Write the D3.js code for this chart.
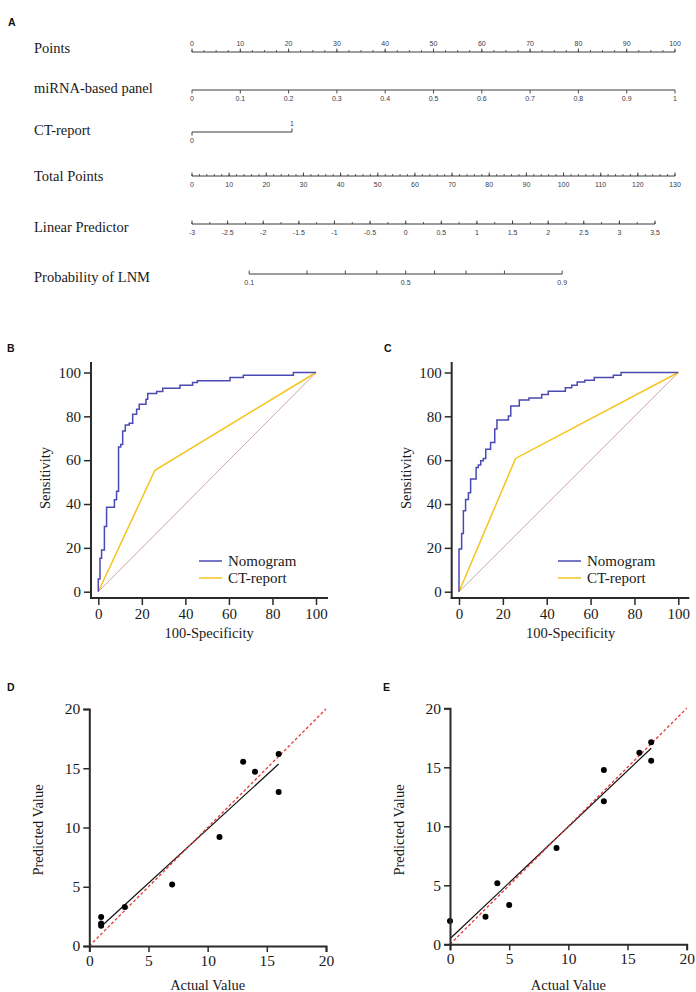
<!DOCTYPE html>
<html><head><meta charset="utf-8">
<script src="https://cdn.jsdelivr.net/npm/d3@7"></script>
<style>html,body{margin:0;padding:0;background:#fff;}svg{display:block;}</style>
</head><body>
<svg id="fig" width="696" height="992"></svg>
<script>
// ---------- DATA ----------
const nomoRows = ["Points", "miRNA-based panel", "CT-report", "Total Points", "Linear Predictor", "Probability of LNM"];
const pointsTicks = [0,10,20,30,40,50,60,70,80,90,100];
const mirnaTicks = [0,0.1,0.2,0.3,0.4,0.5,0.6,0.7,0.8,0.9,1];
const ctLevels = [0, 1];
const ctPointsAt1 = 20.7;
const totalTicks = [0,10,20,30,40,50,60,70,80,90,100,110,120,130];
const lpTicks = [-3,-2.5,-2,-1.5,-1,-0.5,0,0.5,1,1.5,2,2.5,3,3.5];
const probTicks = [0.1,0.2,0.3,0.4,0.5,0.6,0.7,0.8,0.9];
const probLabels = [0.1,0.5,0.9];

const rocTicks = [0,20,40,60,80,100];
const fprB = [0,0,0.77,1.5,2.8,3.8,7.4,8.4,9.3,10.3,11.2,12.4,14.2,15.8,17.6,18.8,21.9,22.7,26.8,29.6,37.5,43.3,45.5,60.5,66.6,89.6,100];
const sensB = [0,5.8,15.3,19,29.8,38.5,42,45.8,66,67.2,73.3,76,76.8,80.9,83.2,85.5,87.8,90.4,91.3,92.8,94.2,95.4,96.2,97.7,98.8,100,100];
const ctFprB = [0,26,100];
const ctSensB = [0,55.4,100];
const fprC = [0,0,1.2,2.0,3.0,4.3,5.3,7.8,8.8,9.9,11.1,12.2,14.4,16.3,17.3,22.5,23.6,27.5,31.9,37.7,40.7,48.5,51.4,53.9,57.4,61.7,70.4,73.9,100];
const sensC = [0,19.5,26.6,36.9,42.1,45.1,51.4,56.7,57.8,59.7,60.8,65,68.1,74.2,78.3,80.1,84.7,87.4,88.4,90,91.5,93,94.2,95.7,96.5,97.7,98.8,100,100];
const ctFprC = [0,25.8,100];
const ctSensC = [0,60.8,100];
const legendNames = ["Nomogram", "CT-report"];

const calTicks = [0,5,10,15,20];
const actualD = [1,1,1,3,7,11,13,14,16,16];
const predD = [2.45,1.9,1.7,3.3,5.2,9.2,15.55,14.7,16.2,13.0];
const actualE = [0,3,4,5,9,13,13,16,17,17];
const predE = [1.98,2.34,5.17,3.33,8.16,14.77,12.12,16.24,17.12,15.56];

// ---------- STYLE ----------
const serif = "'Liberation Serif','Times New Roman',serif";
const sans = "'Liberation Sans',Arial,sans-serif";
const blue = "#4a4ab2", yellow = "#f6c31c", diag = "#c99a9a", axisCol = "#2b2b2b";

const svg = d3.select("#fig");

// ---------- PANEL LABELS ----------
[["A",8,26],["B",7,352],["C",384,352],["D",7,691],["E",383,691]].forEach(([t,x,y])=>{
  svg.append("text").attr("x",x).attr("y",y).text(t)
    .attr("font-family",sans).attr("font-weight","bold").attr("font-size",10.5).attr("fill","#111");
});

// ---------- NOMOGRAM ----------
const rowBase = [53, 93, 135, 181, 232, 282];
nomoRows.forEach((r,i)=>{
  svg.append("text").attr("x",34).attr("y",rowBase[i]).text(r)
    .attr("font-family",serif).attr("font-size",14.5).attr("fill","#1a1a1a");
});
const nomoLine = "#3a3a3a", nomoText = "#3b3b4e";
const pts = d3.scaleLinear().domain([0,100]).range([192,675]);
const tot = d3.scaleLinear().domain([0,130]).range([192,675]);
const lp = d3.scaleLinear().domain([-3,3.5]).range([192,655]);
const logit = p => Math.log(p/(1-p));

function nomoAxis(y, scale, ticks, minor, dir, labelPos, labelTicks, fmt){
  const g = svg.append("g");
  const d = scale.domain();
  g.append("line").attr("x1",scale(d[0])).attr("x2",scale(d[d.length-1])).attr("y1",y).attr("y2",y)
    .attr("stroke",nomoLine).attr("stroke-width",1);
  minor.forEach(v=>{
    g.append("line").attr("x1",scale(v)).attr("x2",scale(v)).attr("y1",y).attr("y2",y+dir*2)
      .attr("stroke",nomoLine).attr("stroke-width",0.8);
  });
  ticks.forEach(v=>{
    g.append("line").attr("x1",scale(v)).attr("x2",scale(v)).attr("y1",y).attr("y2",y+dir*3.5)
      .attr("stroke",nomoLine).attr("stroke-width",0.9);
  });
  (labelTicks||ticks).forEach(v=>{
    g.append("text").attr("x",scale(v)).attr("y", labelPos==="above" ? y-6 : y+10.5)
      .attr("text-anchor","middle").attr("font-family",sans).attr("font-size",7).attr("fill",nomoText)
      .text(fmt ? fmt(v) : v);
  });
}
// Points
nomoAxis(52, pts, pointsTicks, d3.range(0,100.01,2.5), -1, "above");
// miRNA
const mir = d3.scaleLinear().domain([0,1]).range([pts(0),pts(100)]);
nomoAxis(90, mir, mirnaTicks, [], 1, "below");
// CT-report
{
  const y = 132;
  const ct = d3.scaleLinear().domain([0,1]).range([pts(0),pts(ctPointsAt1)]);
  svg.append("line").attr("x1",ct(0)).attr("x2",ct(1)).attr("y1",y).attr("y2",y).attr("stroke",nomoLine);
  svg.append("line").attr("x1",ct(0)).attr("x2",ct(0)).attr("y1",y).attr("y2",y+3.5).attr("stroke",nomoLine);
  svg.append("line").attr("x1",ct(1)).attr("x2",ct(1)).attr("y1",y).attr("y2",y-3.5).attr("stroke",nomoLine);
  svg.append("text").attr("x",ct(0)).attr("y",y+10.5).attr("text-anchor","middle").attr("font-family",sans).attr("font-size",7).attr("fill",nomoText).text(ctLevels[0]);
  svg.append("text").attr("x",ct(1)).attr("y",y-6).attr("text-anchor","middle").attr("font-family",sans).attr("font-size",7).attr("fill",nomoText).text(ctLevels[1]);
}
// Total Points
nomoAxis(176, tot, totalTicks, d3.range(0,130.01,2), -1, "below");
// Linear predictor
nomoAxis(224, lp, lpTicks, d3.range(-3,3.501,0.25), -1, "below");
// Probability
{
  const pScale = v => lp(logit(v));
  pScale.domain = () => [probTicks[0], probTicks[probTicks.length-1]];
  nomoAxis(274, pScale, probTicks, [], -1, "below", probLabels);
}

// ---------- ROC PANELS ----------
function rocPanel(xr, axisX, axisRight, fpr, sens, ctF, ctS, legX){
  const x = d3.scaleLinear().domain([0,100]).range(xr);
  const y = d3.scaleLinear().domain([0,100]).range([591.7,372.5]);
  const axisY = 598, axisTop = 362;
  const g = svg.append("g");
  // diagonal
  g.append("line").attr("x1",x(0)).attr("y1",y(0)).attr("x2",x(100)).attr("y2",y(100))
    .attr("stroke",diag).attr("stroke-width",0.9);
  // CT
  g.append("path").datum(ctF.map((v,i)=>[v,ctS[i]]))
    .attr("d", d3.line().x(d=>x(d[0])).y(d=>y(d[1])))
    .attr("fill","none").attr("stroke",yellow).attr("stroke-width",1.5);
  // Nomogram
  g.append("path").datum(fpr.map((v,i)=>[v,sens[i]]))
    .attr("d", d3.line().x(d=>x(d[0])).y(d=>y(d[1])).curve(d3.curveStepAfter))
    .attr("fill","none").attr("stroke",blue).attr("stroke-width",1.5);
  // axes
  const ya = g.append("g").attr("transform",`translate(${axisX},0)`)
    .call(d3.axisLeft(y).tickValues(rocTicks).tickSize(7).tickPadding(3));
  const xa = g.append("g").attr("transform",`translate(0,${axisY})`)
    .call(d3.axisBottom(x).tickValues(rocTicks).tickSize(7).tickPadding(3));
  [ya,xa].forEach(a=>{
    a.select(".domain").remove();
    a.selectAll(".tick line").attr("stroke",axisCol).attr("stroke-width",1.5);
    a.selectAll(".tick text").attr("font-family",serif).attr("font-size",15).attr("fill","#1a1a1a");
  });
  g.append("line").attr("x1",axisX).attr("x2",axisX).attr("y1",axisTop).attr("y2",axisY+1)
    .attr("stroke",axisCol).attr("stroke-width",2);
  g.append("line").attr("x1",axisX-1).attr("x2",axisRight).attr("y1",axisY).attr("y2",axisY)
    .attr("stroke",axisCol).attr("stroke-width",2);
  // titles
  g.append("text").attr("transform",`translate(${axisX-46},478) rotate(-90)`).attr("text-anchor","middle")
    .attr("dy","0.35em").attr("font-family",serif).attr("font-size",14.5).attr("fill","#1a1a1a").text("Sensitivity");
  g.append("text").attr("x",(x(0)+x(100))/2+2).attr("y",638).attr("text-anchor","middle")
    .attr("font-family",serif).attr("font-size",14.5).attr("fill","#1a1a1a").text("100-Specificity");
  // legend
  [[blue,561],[yellow,578]].forEach(([c,ly],i)=>{
    g.append("line").attr("x1",legX).attr("x2",legX+23).attr("y1",ly).attr("y2",ly).attr("stroke",c).attr("stroke-width",1.5);
    g.append("text").attr("x",legX+29).attr("y",ly).attr("dy","0.35em").attr("font-family",serif).attr("font-size",15)
      .attr("fill","#1a1a1a").text(legendNames[i]);
  });
}
rocPanel([98.3,316], 91, 328, fprB, sensB, ctFprB, ctSensB, 199);
rocPanel([459,678.3], 451.7, 689.3, fprC, sensC, ctFprC, ctSensC, 558);

// ---------- CALIBRATION PANELS ----------
function calPanel(xr, yr, actual, pred){
  const x = d3.scaleLinear().domain([0,20]).range(xr);
  const y = d3.scaleLinear().domain([0,20]).range(yr);
  const g = svg.append("g");
  // regression
  const mx = d3.mean(actual), my = d3.mean(pred);
  const b = d3.sum(actual.map((v,i)=>(v-mx)*(pred[i]-my))) / d3.sum(actual.map(v=>(v-mx)*(v-mx)));
  const a = my - b*mx;
  const x0 = d3.min(actual), x1 = d3.max(actual);
  g.append("line").attr("x1",x(x0)).attr("y1",y(a+b*x0)).attr("x2",x(x1)).attr("y2",y(a+b*x1))
    .attr("stroke","#111").attr("stroke-width",1.2);
  // identity
  g.append("line").attr("x1",x(0)).attr("y1",y(0)).attr("x2",x(20)).attr("y2",y(20))
    .attr("stroke","#e8353a").attr("stroke-width",1.3).attr("stroke-dasharray","3,2.2");
  // points
  g.selectAll("circle").data(actual.map((v,i)=>[v,pred[i]])).join("circle")
    .attr("cx",d=>x(d[0])).attr("cy",d=>y(d[1])).attr("r",3).attr("fill","#000");
  // axes
  const ya = g.append("g").attr("transform",`translate(${x(0)},0)`)
    .call(d3.axisLeft(y).tickValues(calTicks).tickSize(6).tickPadding(3));
  const xa = g.append("g").attr("transform",`translate(0,${y(0)})`)
    .call(d3.axisBottom(x).tickValues(calTicks).tickSize(6).tickPadding(3));
  [ya,xa].forEach(ax=>{
    ax.select(".domain").attr("stroke",axisCol).attr("stroke-width",2);
    ax.selectAll(".tick line").attr("stroke",axisCol).attr("stroke-width",1.5);
    ax.selectAll(".tick text").attr("font-family",serif).attr("font-size",15.5).attr("fill","#1a1a1a");
  });
  g.append("text").attr("transform",`translate(${x(0)-51},830) rotate(-90)`).attr("text-anchor","middle")
    .attr("dy","0.35em").attr("font-family",serif).attr("font-size",14.5).attr("fill","#1a1a1a").text("Predicted Value");
  g.append("text").attr("x",(x(0)+x(20))/2).attr("y",990).attr("text-anchor","middle")
    .attr("font-family",serif).attr("font-size",14.5).attr("fill","#1a1a1a").text("Actual Value");
}
calPanel([89.3,326],[946,709], actualD, predD);
calPanel([450,686.7],[944.3,708.3], actualE, predE);
</script>
</body></html>
